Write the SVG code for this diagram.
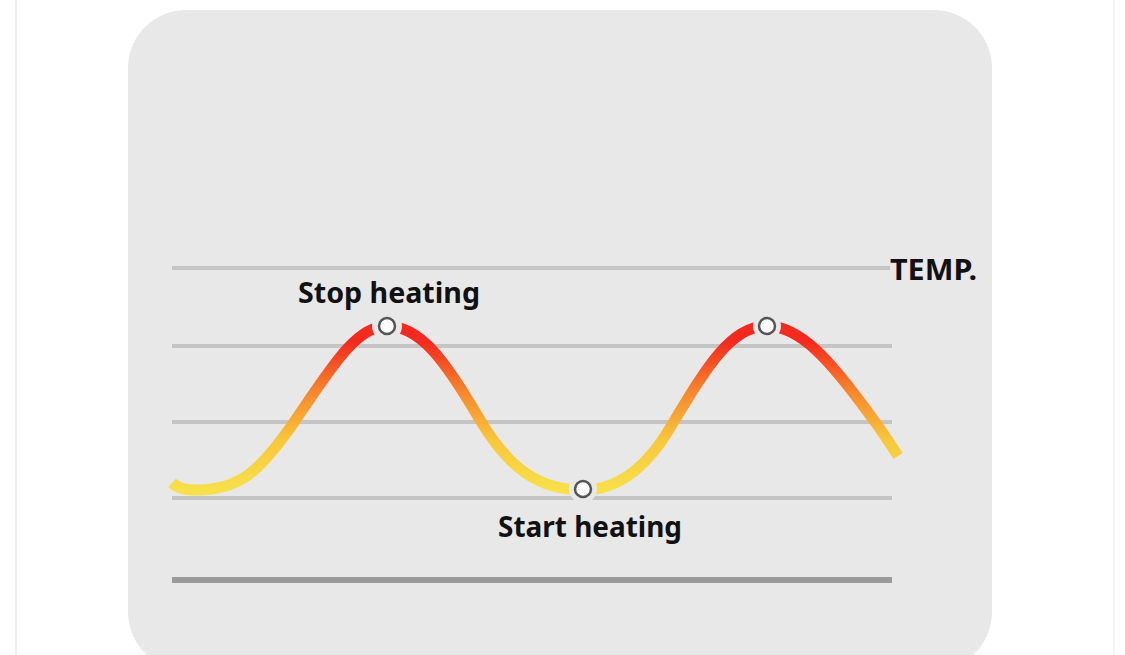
<svg xmlns="http://www.w3.org/2000/svg" width="1125" height="655" viewBox="0 0 1125 655">
<style>
.bg{fill:#ffffff}
.panel{fill:#e8e8e8}
.grid{stroke:#c4c4c4;stroke-width:4;fill:none}
.axis{stroke:#9a9a9a;stroke-width:6;fill:none}
.lbl{font-family:"Noto Sans","Open Sans","Liberation Sans",sans-serif;font-weight:bold;fill:#111}
.mark{fill:#ffffff;stroke:#555;stroke-width:2.5}
.gap{fill:#e8e8e8}
</style>
<defs>
<linearGradient id="heat" gradientUnits="userSpaceOnUse" x1="0" y1="490" x2="0" y2="326">
<stop offset="0" stop-color="#f7e04a"/>
<stop offset="0.3" stop-color="#f8c83a"/>
<stop offset="0.6" stop-color="#f8862c"/>
<stop offset="0.9" stop-color="#f42a1e"/>
<stop offset="1" stop-color="#f42a1e"/>
</linearGradient>
</defs>
<rect class="bg" x="0" y="0" width="1125" height="655"/>
<line x1="16" y1="0" x2="16" y2="655" stroke="#efefef" stroke-width="2"/>
<line x1="1114" y1="0" x2="1114" y2="655" stroke="#f6f6f6" stroke-width="2"/>
<rect class="panel" x="128" y="10" width="864" height="660" rx="58" ry="58"/>
<g id="grid">
<line class="grid" x1="172" y1="268" x2="890" y2="268"/>
<line class="grid" x1="172" y1="346" x2="892" y2="346"/>
<line class="grid" x1="172" y1="422" x2="892" y2="422"/>
<line class="grid" x1="172" y1="498" x2="892" y2="498"/>
<line class="axis" x1="172" y1="580" x2="892" y2="580"/>
</g>
<g id="connectors">
<path id="curve" fill="none" stroke="url(#heat)" stroke-width="11" stroke-linecap="butt" d="M172,483 C180,490 190,490 197,490 C240,490 260,470 290,428 C330,370 355,326 387,326 C420,326 445,360 480,420 C510,470 540,490 583,490 C615,490 645,470 670,428 C705,370 730,326 767,326 C800,326 830,360 870,415 C885,435 892,447 898,456"/>
</g>
<g id="node-stop">
<circle class="gap" cx="387" cy="326" r="15"/>
<circle class="mark" cx="387" cy="326" r="8"/>
<text class="lbl" x="298" y="303" font-size="28" textLength="182" lengthAdjust="spacingAndGlyphs">Stop heating</text>
</g>
<g id="node-start">
<circle class="gap" cx="583" cy="489" r="14"/>
<circle class="mark" cx="583" cy="489" r="8"/>
<text class="lbl" x="498" y="537" font-size="28" textLength="184" lengthAdjust="spacingAndGlyphs">Start heating</text>
</g>
<g id="node-peak2">
<circle class="gap" cx="767" cy="326" r="14"/>
<circle class="mark" cx="767" cy="326" r="8"/>
</g>
<g id="node-temp">
<text class="lbl" x="890" y="280" font-size="28" textLength="87" lengthAdjust="spacingAndGlyphs">TEMP.</text>
</g>
</svg>
